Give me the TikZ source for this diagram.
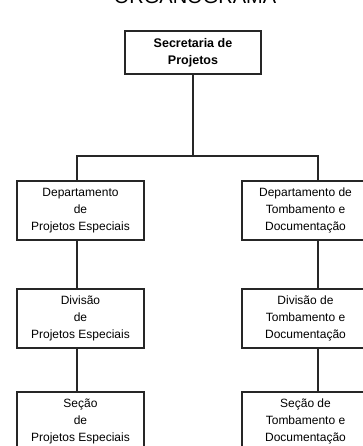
\documentclass[tikz,border=0pt]{standalone}
\usepackage{fontspec}
\setmainfont{Liberation Sans}
\usetikzlibrary{calc}

\tikzset{
  unit/.style={draw=black!85, line width=1.4pt, fill=white, align=center,
    minimum width=127pt, minimum height=59pt, inner sep=0pt,
    font=\fontsize{12}{16.7}\selectfont},
  head/.style={unit, minimum width=136pt, minimum height=43pt,
    font=\bfseries\fontsize{12.5}{16.7}\selectfont},
  conn/.style={draw=black!85, line width=1.6pt}
}

\begin{document}
\begin{tikzpicture}[x=1pt,y=-1pt]
      \clip (0,0) rectangle (363,446);
      \node[anchor=base, font=\fontsize{20}{24}\selectfont] (title) at (195,4) {ORGANOGRAMA};
      \node[head] (sec) at (193,52.5) {Secretaria de\\Projetos};
      % ramo esquerdo
      \node[unit] (dep1) at (80.5,210.5) {Departamento\\de\\Projetos Especiais};
      \node[unit] (div1) at (80.5,318.5) {Divis\~ao\\de\\Projetos Especiais};
      \node[unit] (sec1) at (80.5,421.5) {Se\c{c}\~ao\\de\\Projetos Especiais};
      % ramo direito
      \node[unit] (dep2) at (305.5,210.5) {Departamento de\\Tombamento e\\Documenta\c{c}\~ao};
      \node[unit] (div2) at (305.5,318.5) {Divis\~ao de\\Tombamento e\\Documenta\c{c}\~ao};
      \node[unit] (sec2) at (305.5,421.5) {Se\c{c}\~ao de\\Tombamento e\\Documenta\c{c}\~ao};
      \coordinate (bus) at (193,156);
      \coordinate (lx) at (77,0);
      \coordinate (rx) at (318,0);
      \path[conn] (sec.south) -- (bus);
      \path[conn] (dep1.north -| lx) |- (bus) -| (dep2.north -| rx);
      \path[conn] (dep1.south -| lx) -- (div1.north -| lx);
      \path[conn] (div1.south -| lx) -- (sec1.north -| lx);
      \path[conn] (dep2.south -| rx) -- (div2.north -| rx);
      \path[conn] (div2.south -| rx) -- (sec2.north -| rx);
    \end{tikzpicture}
\end{document}
